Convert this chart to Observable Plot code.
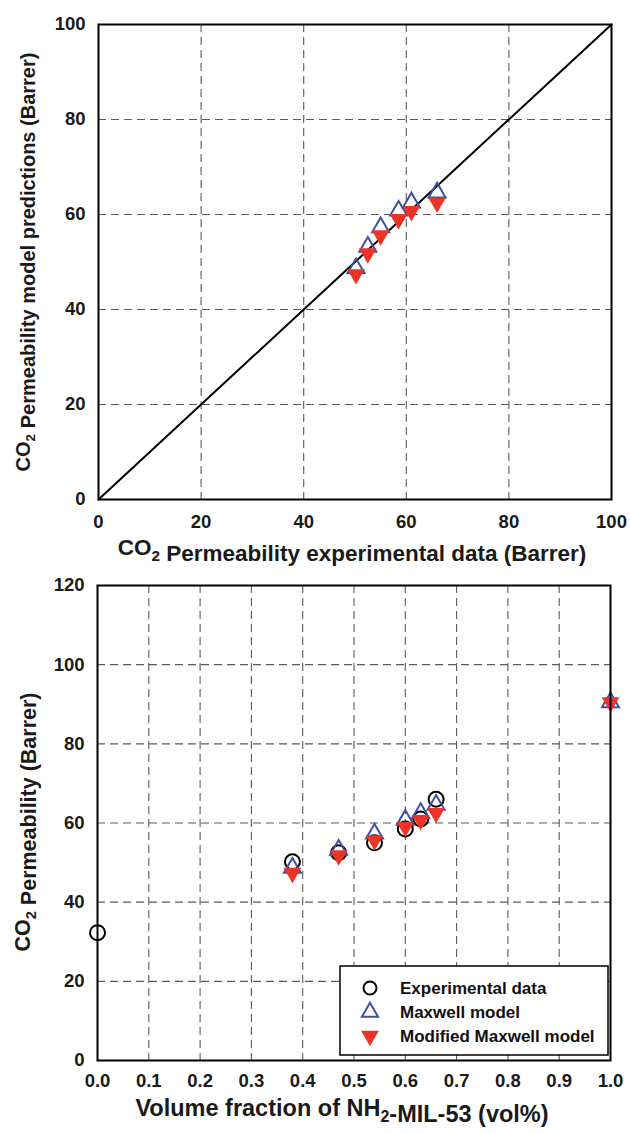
<!DOCTYPE html>
<html>
<head>
<meta charset="utf-8">
<script src="https://cdn.jsdelivr.net/npm/d3@7"></script>
<script src="https://cdn.jsdelivr.net/npm/@observablehq/plot@0.6"></script>
<style>
  html, body { margin: 0; padding: 0; background: #fff; }
  #wrap { width: 630px; }
  svg { display: block; }
</style>
</head>
<body>
<div id="wrap"></div>
<script>
// ---- data ----
const volFrac   = [0.38, 0.47, 0.54, 0.60, 0.63, 0.66];
const expData   = [50.2, 52.5, 55.0, 58.5, 61.0, 66.0];
const maxwell   = [48.7, 53.2, 57.3, 60.8, 62.5, 64.6];
const modMaxwell= [47.4, 51.8, 55.6, 59.0, 60.7, 62.5];
const neatVolFrac = [0.0];
const neatPerm    = [32.3];
const fillerVolFrac = [1.0];
const fillerMaxwell = [90.5];
const fillerModified = [90.5];
const parityLine = [0, 100];
const topTicks = [0, 20, 40, 60, 80, 100];
const botXTicks = [0, 0.1, 0.2, 0.3, 0.4, 0.5, 0.6, 0.7, 0.8, 0.9, 1.0];
const botYTicks = [0, 20, 40, 60, 80, 100, 120];

const FONT = "'Liberation Sans', Arial, sans-serif";
const BLUE = "#3b52a3";
const RED = "#ec3328";
const GRID = {stroke: "#5a5a5a", strokeWidth: 1.1, strokeDasharray: "8,5"};
const TICKFONT = {fontFamily: FONT, fontSize: "18.5px", fontWeight: "bold", color: "#1a1a1a", background: "#fff"};

const topRows = expData.map((e, i) => ({e, mx: maxwell[i], mm: modMaxwell[i]}));
const parity = parityLine.map(v => ({x: v, y: v}));

const topChart = Plot.plot({
  width: 630, height: 575,
  marginTop: 24, marginBottom: 76, marginLeft: 98, marginRight: 19,
  style: TICKFONT,
  x: {domain: [0, 100], ticks: topTicks, tickSize: 0, tickPadding: 15, label: null},
  y: {domain: [0, 100], ticks: topTicks, tickSize: 0, tickPadding: 13, label: null},
  marks: [
    Plot.ruleX(topTicks.slice(1, -1), GRID),
    Plot.ruleY(topTicks.slice(1, -1), GRID),
    Plot.line(parity, {x: "x", y: "y", stroke: "#000", strokeWidth: 2}),
    Plot.dot(topRows, {x: "e", y: "mx", symbol: "triangle", r: 6.3, stroke: BLUE, strokeWidth: 2, fill: "none"}),
    Plot.dot(topRows, {x: "e", y: "mm", symbol: "triangle", r: 6.6, fill: RED, stroke: "none", rotate: 180}),
    Plot.frame({stroke: "#000", strokeWidth: 2})
  ]
});

const expRows = neatVolFrac.map((v, i) => ({v, p: neatPerm[i]}))
  .concat(volFrac.map((v, i) => ({v, p: expData[i]})));
const mxRows = volFrac.map((v, i) => ({v, p: maxwell[i]}))
  .concat(fillerVolFrac.map((v, i) => ({v, p: fillerMaxwell[i]})));
const mmRows = volFrac.map((v, i) => ({v, p: modMaxwell[i]}))
  .concat(fillerVolFrac.map((v, i) => ({v, p: fillerModified[i]})));

const botChart = Plot.plot({
  width: 630, height: 559,
  marginTop: 10, marginBottom: 74, marginLeft: 97, marginRight: 20,
  style: TICKFONT,
  x: {domain: [0, 1], ticks: botXTicks, tickFormat: d3.format(".1f"), tickSize: 0, tickPadding: 13.5, label: null},
  y: {domain: [0, 120], ticks: botYTicks, tickSize: 0, tickPadding: 13, label: null},
  marks: [
    Plot.ruleX(botXTicks.slice(1, -1), GRID),
    Plot.ruleY(botYTicks.slice(1, -1), GRID),
    Plot.dot(expRows, {x: "v", y: "p", r: 7.5, stroke: "#000", strokeWidth: 2, fill: "none"}),
    Plot.dot(mxRows, {x: "v", y: "p", symbol: "triangle", r: 6.3, stroke: BLUE, strokeWidth: 2, fill: "none"}),
    Plot.dot(mmRows, {x: "v", y: "p", symbol: "triangle", r: 6.6, fill: RED, stroke: "none", rotate: 180}),
    Plot.frame({stroke: "#000", strokeWidth: 2})
  ]
});

const wrap = document.getElementById("wrap");
wrap.appendChild(topChart);
wrap.appendChild(botChart);

function addLabel(svg, parts, x, y, rotate, size) {
  const t = d3.select(svg).append("text")
    .attr("text-anchor", "middle")
    .attr("font-family", FONT)
    .attr("font-weight", "bold")
    .attr("font-size", size)
    .attr("fill", "#1a1a1a")
    .attr("transform", `translate(${x},${y})` + (rotate ? " rotate(-90)" : ""));
  parts.forEach(([s, sub]) => {
    if (sub) {
      t.append("tspan").attr("font-size", size * 0.68).attr("dy", "0.38em").text(s);
      t.append("tspan").attr("dy", "-0.38em").text("");
    } else {
      t.append("tspan").text(s);
    }
  });
}

addLabel(topChart, [["CO"], ["2", true], [" Permeability model predictions (Barrer)"]], 30, 262, true, 20);
addLabel(topChart, [["CO"], ["2", true], [" Permeability experimental data (Barrer)"]], 352, 555, false, 22.5);
addLabel(botChart, [["CO"], ["2", true], [" Permeability (Barrer)"]], 30, 247, true, 21.5);
addLabel(botChart, [["Volume fraction of NH"], ["2", true], ["-MIL-53 (vol%)"]], 342, 541, false, 23.5);

// legend
const lg = d3.select(botChart).append("g").attr("font-family", FONT).attr("font-weight", "bold")
  .attr("font-size", 17).attr("fill", "#111").attr("text-anchor", "start");
lg.append("rect").attr("x", 340).attr("y", 391).attr("width", 268).attr("height", 89)
  .attr("fill", "#fff").attr("stroke", "#000").attr("stroke-width", 1.5);
const items = [
  {label: "Experimental data", kind: "circle"},
  {label: "Maxwell model", kind: "tri"},
  {label: "Modified Maxwell model", kind: "down"}
];
items.forEach((it, i) => {
  const cy = 413 + i * 24;
  if (it.kind === "circle") {
    lg.append("circle").attr("cx", 370).attr("cy", cy).attr("r", 6.5).attr("fill", "none").attr("stroke", "#000").attr("stroke-width", 2);
  } else if (it.kind === "tri") {
    lg.append("path").attr("d", d3.symbol(d3.symbolTriangle, Math.PI * 6 * 6)()).attr("transform", `translate(370,${cy})`)
      .attr("fill", "none").attr("stroke", BLUE).attr("stroke-width", 2);
  } else {
    lg.append("path").attr("d", d3.symbol(d3.symbolTriangle, Math.PI * 6.6 * 6.6)()).attr("transform", `translate(370,${cy}) rotate(180)`)
      .attr("fill", RED);
  }
  lg.append("text").attr("x", 400).attr("y", cy).attr("dy", "0.35em").text(it.label);
});
</script>
</body>
</html>
